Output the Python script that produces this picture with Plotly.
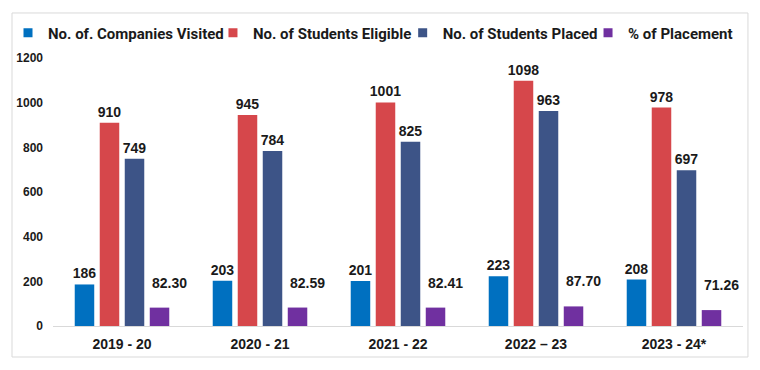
import plotly.graph_objects as go

years = ["2019 - 20", "2020 - 21", "2021 - 22", "2022 – 23", "2023 - 24*"]
companies = [186, 203, 201, 223, 208]
eligible = [910, 945, 1001, 1098, 978]
placed = [749, 784, 825, 963, 697]
percent = [82.30, 82.59, 82.41, 87.70, 71.26]

names = ["No. of. Companies Visited", "No. of Students Eligible", "No. of Students Placed", "% of Placement"]
colors = ["#0070C0", "#D6474B", "#3D5487", "#7030A0"]

lab_font = dict(family="Arial, Liberation Sans, sans-serif", size=14, color="#1a1a1a")
legend_x = [0.0, 0.2697, 0.5193, 0.7632]
legend_keys = ["legend", "legend2", "legend3", "legend4"]

fig = go.Figure()
for i, (nm, vals, col) in enumerate(zip(names, [companies, eligible, placed, percent], colors)):
    is_pct = i == 3
    fig.add_trace(go.Bar(
        x=years, y=vals, name=nm, marker=dict(color=col, line=dict(width=0)),
        text=None if is_pct else [f"<b>{v}</b>" for v in vals],
        textposition="outside", textfont=lab_font, cliponaxis=False,
        constraintext="none", showlegend=False,
    ))
    # legend-only entry with a small square key
    fig.add_trace(go.Scatter(
        x=[None], y=[None], mode="markers", name=nm, legend=legend_keys[i],
        marker=dict(symbol="square", size=9, color=col), showlegend=True,
    ))

# percent labels raised above (and a little right of) their bars
for yr, v in zip(years, percent):
    fig.add_annotation(x=yr, y=v, text=f"<b>{v:.2f}</b>", showarrow=False,
                       xshift=47, yshift=25, font=lab_font)

leg_common = dict(orientation="h", xref="container", yref="container",
                  xanchor="left", y=1 - 25 / 370, yanchor="middle",
                  bgcolor="rgba(0,0,0,0)", borderwidth=0, itemwidth=30,
                  font=dict(family="Roboto, sans-serif", size=15, weight=700, color="#1a1a1a"))

fig.update_layout(
    width=760, height=370,
    paper_bgcolor="white", plot_bgcolor="white",
    margin=dict(l=45, r=25, t=50, b=52, autoexpand=False),
    barmode="group", bargap=0.275, bargroupgap=0.22,
    showlegend=True,
    legend=dict(leg_common, x=legend_x[0]),
    legend2=dict(leg_common, x=legend_x[1]),
    legend3=dict(leg_common, x=legend_x[2]),
    legend4=dict(leg_common, x=legend_x[3]),
    xaxis=dict(showline=True, linecolor="#d9d9d9", linewidth=1, ticks="",
               tickfont=dict(family="Arial, Liberation Sans, sans-serif", size=14, color="#1a1a1a"),
               tickprefix="<b>", ticksuffix="</b>", ticklabelstandoff=5),
    yaxis=dict(range=[0, 1200], dtick=200, showgrid=False, zeroline=False, showline=False,
               tickfont=dict(family="Arial, Liberation Sans, sans-serif", size=12, color="#1a1a1a"),
               tickprefix="<b>", ticksuffix="</b>", ticklabelstandoff=9),
    shapes=[dict(type="rect", xref="paper", yref="paper", x0=-0.0594, x1=1.0072, y0=-0.1157, y1=1.168,
                 line=dict(color="#d9d9d9", width=1), fillcolor="rgba(0,0,0,0)", layer="below")],
)

fig.write_html("out.html")
